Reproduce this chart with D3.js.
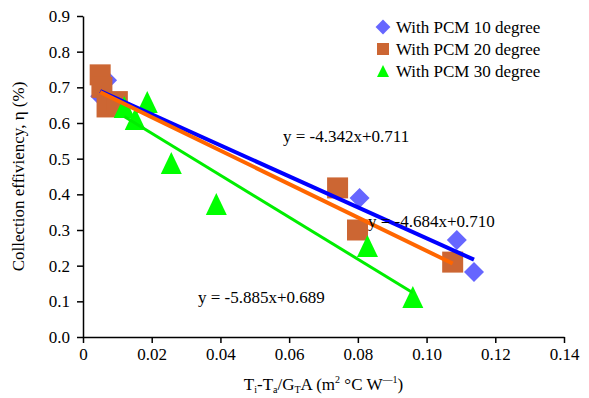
<!DOCTYPE html>
<html>
<head>
<meta charset="utf-8">
<script src="https://cdn.jsdelivr.net/npm/d3@7"></script>
<style>
  body { margin: 0; background: #fff; }
  svg text { font-family: "Liberation Serif", "Times New Roman", serif !important; }
</style>
</head>
<body>
<div id="wrapper"></div>
<script>
// data
const pcm10x = [0.005, 0.007, 0.0805, 0.1088, 0.1138];
const pcm10y = [0.675, 0.72, 0.39, 0.272, 0.182];

const pcm20x = [0.005, 0.0055, 0.007, 0.010, 0.0741, 0.0799, 0.1076];
const pcm20y = [0.735, 0.70, 0.645, 0.66, 0.418, 0.300, 0.210];

const pcm30x = [0.012, 0.0152, 0.0187, 0.0257, 0.0388, 0.0828, 0.096];
const pcm30y = [0.645, 0.611, 0.659, 0.488, 0.373, 0.255, 0.112];

// trend lines: slope, intercept
const fits = [
    { slope: -4.342, icpt: 0.711, label: "y = -4.342x+0.711" },
    { slope: -4.684, icpt: 0.710, label: "y = -4.684x+0.710" },
    { slope: -5.885, icpt: 0.689, label: "y = -5.885x+0.689" },
];

const seriesNames = ["With PCM 10 degree", "With PCM 20 degree", "With PCM 30 degree"];

const xTicks = [0, 0.02, 0.04, 0.06, 0.08, 0.10, 0.12, 0.14];
const xTickLabels = ["0", "0.02", "0.04", "0.06", "0.08", "0.10", "0.12", "0.14"];
const yTicks = [0, 0.1, 0.2, 0.3, 0.4, 0.5, 0.6, 0.7, 0.8, 0.9];
const yTickLabels = ["0.0", "0.1", "0.2", "0.3", "0.4", "0.5", "0.6", "0.7", "0.8", "0.9"];

const width = 589
const height = 398
const margin = { top: 16, right: 25, bottom: 61, left: 83 }
const boundedWidth = width - margin.left - margin.right
const boundedHeight = height - margin.top - margin.bottom

const svg = d3.select("#wrapper")
    .append("svg")
    .attr("width", width)
    .attr("height", height);

const bounds = svg.append("g")
    .attr("transform", `translate(${margin.left},${margin.top})`);

const xScaler = d3.scaleLinear()
    .domain([0, 0.14])
    .range([0, boundedWidth]);

const yScaler = d3.scaleLinear()
    .domain([0, 0.9])
    .range([boundedHeight, 0]);

// axes
const xAxis = bounds.append("g")
    .attr("transform", `translate(0,${boundedHeight})`)
    .call(d3.axisBottom(xScaler)
        .tickValues(xTicks)
        .tickSize(6)
        .tickSizeOuter(0)
        .tickFormat((d, i) => xTickLabels[i]));

const yAxis = bounds.append("g")
    .call(d3.axisLeft(yScaler)
        .tickValues(yTicks)
        .tickSize(6)
        .tickSizeOuter(0)
        .tickFormat((d, i) => yTickLabels[i]));

[xAxis, yAxis].forEach(ax => {
    ax.attr("font-family", "Liberation Serif").attr("font-size", 17);
    ax.select(".domain").attr("stroke", "#000").attr("stroke-width", 1.5);
    ax.selectAll(".tick line").attr("stroke", "#000").attr("stroke-width", 1.5);
    ax.selectAll(".tick text").attr("fill", "#000");
});
xAxis.selectAll(".tick text").attr("dy", "0.85em");
yAxis.selectAll(".tick text").attr("x", -13);

// markers
const diamond = d3.symbol(d3.symbolSquare, 200);
const square = "M-10.5,-10.5H10.5V10.5H-10.5Z";
const triangle = "M0,-11L10.5,11H-10.5Z";

bounds.append("g").selectAll("path")
    .data(d3.range(pcm10x.length))
    .join("path")
    .attr("d", diamond)
    .attr("transform", i => `translate(${xScaler(pcm10x[i])},${yScaler(pcm10y[i])}) rotate(45)`)
    .attr("fill", "#6666ff");

bounds.append("g").selectAll("path")
    .data(d3.range(pcm20x.length))
    .join("path")
    .attr("d", square)
    .attr("transform", i => `translate(${xScaler(pcm20x[i])},${yScaler(pcm20y[i])})`)
    .attr("fill", "#cc6633");

bounds.append("g").selectAll("path")
    .data(d3.range(pcm30x.length))
    .join("path")
    .attr("d", triangle)
    .attr("transform", i => `translate(${xScaler(pcm30x[i])},${yScaler(pcm30y[i])})`)
    .attr("fill", "#00ff00");

// trend lines over the data extent
const allX = [pcm10x, pcm20x, pcm30x];
const lineColors = ["#0000ff", "#ff6600", "#00ee00"];
const lineWidths = [4, 4, 3];
fits.forEach((f, i) => {
    const [x0, x1] = d3.extent(allX[i]);
    bounds.append("line")
        .attr("x1", xScaler(x0))
        .attr("y1", yScaler(f.slope * x0 + f.icpt))
        .attr("x2", xScaler(x1))
        .attr("y2", yScaler(f.slope * x1 + f.icpt))
        .attr("stroke", lineColors[i])
        .attr("stroke-width", lineWidths[i]);
});

// equation labels
const eqPos = [[283, 142], [368, 227], [198, 303]];
fits.forEach((f, i) => {
    svg.append("text")
        .attr("x", eqPos[i][0])
        .attr("y", eqPos[i][1])
        .attr("font-size", "17px")
        .attr("fill", "#000")
        .text(f.label);
});

// legend
const legend = svg.append("g").attr("transform", "translate(383,27)");
const legendShapes = [
    { d: d3.symbol(d3.symbolSquare, 110)(), rot: 45, fill: "#6666ff" },
    { d: "M-6,-6H6V6H-6Z", rot: 0, fill: "#cc6633" },
    { d: "M0,-6L6,6H-6Z", rot: 0, fill: "#00ff00" },
];
seriesNames.forEach((name, i) => {
    const row = legend.append("g").attr("transform", `translate(0,${i * 22})`);
    row.append("path")
        .attr("d", legendShapes[i].d)
        .attr("transform", `rotate(${legendShapes[i].rot})`)
        .attr("fill", legendShapes[i].fill);
    row.append("text")
        .attr("x", 13)
        .attr("y", 6)
        .attr("font-size", "17px")
        .attr("fill", "#000")
        .text(name);
});

// axis titles
const yLabel = svg.append("text")
    .attr("transform", `translate(24,${margin.top + boundedHeight / 2}) rotate(-90)`)
    .attr("text-anchor", "middle")
    .attr("font-size", "17px")
    .attr("fill", "#000")
    .text("Collection effiviency, η (%)");

const xLabel = svg.append("text")
    .attr("x", margin.left + boundedWidth / 2)
    .attr("y", 390)
    .attr("text-anchor", "middle")
    .attr("font-size", "17px")
    .attr("fill", "#000");
xLabel.append("tspan").text("T");
xLabel.append("tspan").attr("font-size", "10px").attr("dy", 3).text("i");
xLabel.append("tspan").attr("dy", -3).text("-T");
xLabel.append("tspan").attr("font-size", "10px").attr("dy", 3).text("a");
xLabel.append("tspan").attr("dy", -3).text("/G");
xLabel.append("tspan").attr("font-size", "10px").attr("dy", 3).text("T");
xLabel.append("tspan").attr("dy", -3).text("A (m");
xLabel.append("tspan").attr("font-size", "10px").attr("dy", -7).text("2");
xLabel.append("tspan").attr("dy", 7).text(" °C W");
xLabel.append("tspan").attr("font-size", "10px").attr("dy", -7).text("\u20141");
xLabel.append("tspan").attr("dy", 7).text(")");
</script>
</body>
</html>
